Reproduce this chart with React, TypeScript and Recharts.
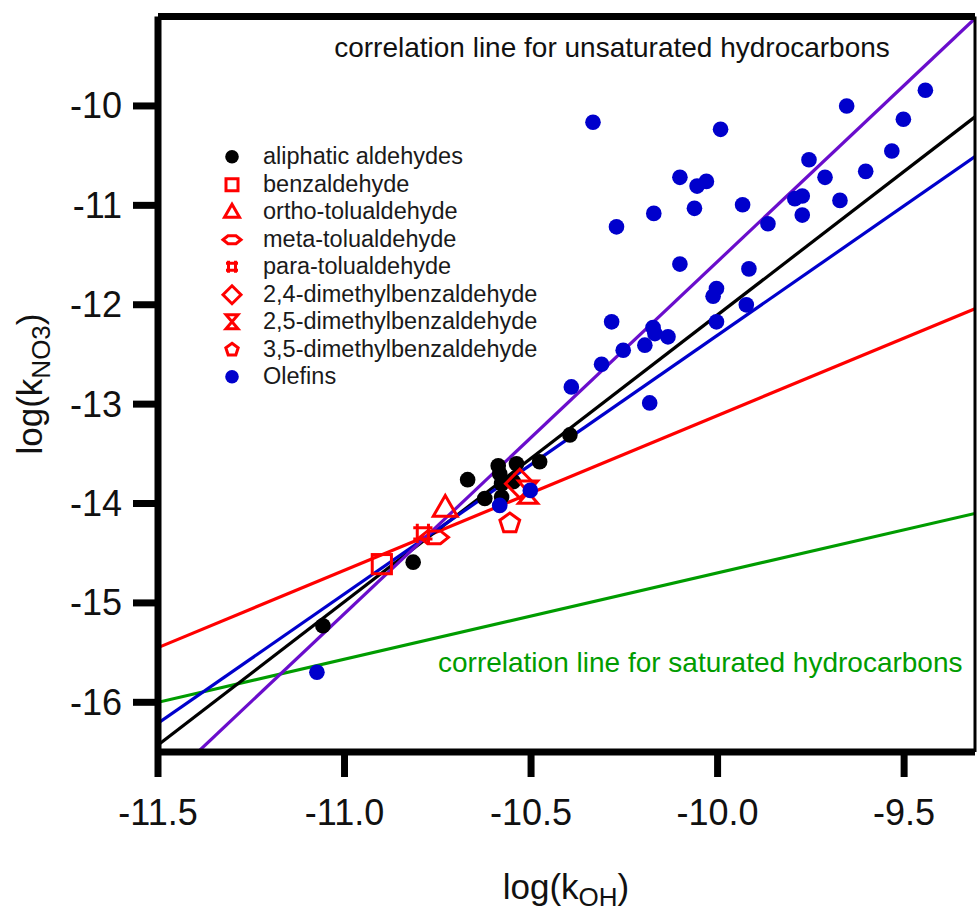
import { ComposedChart, Line, Scatter, XAxis, YAxis, Legend } from 'recharts';

// log(kOH) / log(kNO3) pairs
const ALIPHATIC = [
  { x: -10.67, y: -13.76 },
  { x: -10.588, y: -13.62 },
  { x: -10.584, y: -13.7 },
  { x: -10.579, y: -13.8 },
  { x: -10.539, y: -13.6 },
  { x: -10.548, y: -13.78 },
  { x: -10.477, y: -13.58 },
  { x: -10.624, y: -13.95 },
  { x: -10.579, y: -13.935 },
  { x: -10.816, y: -14.59 },
  { x: -11.058, y: -15.23 },
  { x: -10.396, y: -13.31 },
];
const BENZ = [{ x: -10.9, y: -14.61 }];
const ORTHO = [{ x: -10.73, y: -14.04 }];
const META = [{ x: -10.76, y: -14.34 }];
const PARA = [{ x: -10.79, y: -14.3 }];
const DMB24 = [{ x: -10.53, y: -13.8 }];
const DMB25 = [{ x: -10.508, y: -13.885 }];
const DMB35 = [{ x: -10.557, y: -14.2 }];
const OLEFINS = [
  { x: -10.334, y: -10.164 },
  { x: -9.992, y: -10.235 },
  { x: -9.654, y: -10.0 },
  { x: -9.443, y: -9.842 },
  { x: -9.502, y: -10.134 },
  { x: -9.533, y: -10.453 },
  { x: -9.603, y: -10.658 },
  { x: -9.755, y: -10.541 },
  { x: -9.712, y: -10.718 },
  { x: -10.101, y: -10.718 },
  { x: -10.03, y: -10.759 },
  { x: -10.055, y: -10.806 },
  { x: -10.171, y: -11.081 },
  { x: -10.271, y: -11.216 },
  { x: -10.062, y: -11.03 },
  { x: -9.933, y: -10.994 },
  { x: -9.793, y: -10.933 },
  { x: -9.773, y: -10.906 },
  { x: -9.672, y: -10.95 },
  { x: -9.773, y: -11.098 },
  { x: -9.865, y: -11.185 },
  { x: -10.101, y: -11.591 },
  { x: -9.916, y: -11.639 },
  { x: -10.003, y: -11.837 },
  { x: -10.012, y: -11.914 },
  { x: -9.923, y: -12.001 },
  { x: -10.003, y: -12.172 },
  { x: -10.284, y: -12.172 },
  { x: -10.173, y: -12.229 },
  { x: -10.168, y: -12.29 },
  { x: -10.133, y: -12.323 },
  { x: -10.253, y: -12.458 },
  { x: -10.195, y: -12.407 },
  { x: -10.311, y: -12.599 },
  { x: -10.392, y: -12.827 },
  { x: -10.182, y: -12.988 },
  { x: -10.584, y: -14.019 },
  { x: -10.502, y: -13.868 },
  { x: -11.074, y: -15.698 },
];

// correlation lines (end points)
const SATURATED_LINE = [{ x: -11.5, y: -16.0 }, { x: -9.31, y: -14.1 }];
const AROMATIC_LINE = [{ x: -11.5, y: -15.45 }, { x: -9.31, y: -12.04 }];
const OLEFIN_FIT_LINE = [{ x: -11.5, y: -16.21 }, { x: -9.31, y: -10.51 }];
const ALDEHYDE_LINE = [{ x: -11.5, y: -16.43 }, { x: -9.31, y: -10.11 }];
const UNSATURATED_LINE = [{ x: -11.393, y: -16.5 }, { x: -9.31, y: -9.12 }];

const X_TICKS = [-11.5, -11.0, -10.5, -10.0, -9.5];
const Y_TICKS = [-16, -15, -14, -13, -12, -11, -10];

const FONT = '"Liberation Sans", Arial, sans-serif';
const RED = '#FF0000';
const BLUE = '#0000CC';

const SERIES = [
  { name: 'aliphatic aldehydes', kind: 'dot', color: '#000000', data: ALIPHATIC },
  { name: 'benzaldehyde', kind: 'square', color: RED, data: BENZ },
  { name: 'ortho-tolualdehyde', kind: 'triangle', color: RED, data: ORTHO },
  { name: 'meta-tolualdehyde', kind: 'meta', color: RED, data: META },
  { name: 'para-tolualdehyde', kind: 'para', color: RED, data: PARA },
  { name: '2,4-dimethylbenzaldehyde', kind: 'diamond', color: RED, data: DMB24 },
  { name: '2,5-dimethylbenzaldehyde', kind: 'hourglass', color: RED, data: DMB25 },
  { name: '3,5-dimethylbenzaldehyde', kind: 'pentagon', color: RED, data: DMB35 },
  { name: 'Olefins', kind: 'dot', color: BLUE, data: OLEFINS },
];

function Mark({ kind, cx, cy, s, color }: any) {
  const pts = (list: number[][]) => list.map(([a, b]) => `${cx + a * s},${cy + b * s}`).join(' ');
  const common = { fill: 'none', stroke: color, strokeWidth: 3, strokeLinejoin: 'miter' as const };
  switch (kind) {
    case 'dot':
      return <circle cx={cx} cy={cy} r={6.8 * s} fill={color} />;
    case 'square':
      return <rect x={cx - 6 * s} y={cy - 6 * s} width={12 * s} height={12 * s} {...common} />;
    case 'triangle':
      return <polygon points={pts([[0, -7.5], [7.5, 5.5], [-7.5, 5.5]])} {...common} />;
    case 'meta':
      return <polygon points={pts([[-9, 0], [-4, -4], [4, -4], [9, 0], [4, 4], [-4, 4]])} {...common} />;
    case 'para': {
      const d = `M${cx - 6 * s},${cy - 3.5 * s}H${cx + 6 * s}M${cx - 6 * s},${cy + 3.5 * s}H${cx + 6 * s}M${cx - 3.5 * s},${cy - 6 * s}V${cy + 6 * s}M${cx + 3.5 * s},${cy - 6 * s}V${cy + 6 * s}`;
      return <path d={d} {...common} />;
    }
    case 'diamond':
      return <polygon points={pts([[0, -9], [9, 0], [0, 9], [-9, 0]])} {...common} />;
    case 'hourglass':
      return <polygon points={pts([[-6, -7], [6, -7], [-6, 7], [6, 7]])} {...common} />;
    case 'pentagon': {
      const p = [0, 1, 2, 3, 4].map((i) => {
        const a = -Math.PI / 2 + (i * 2 * Math.PI) / 5;
        return [6.5 * Math.cos(a), 6.5 * Math.sin(a)];
      });
      return <polygon points={pts(p)} {...common} />;
    }
    default:
      return null;
  }
}

function LegendBox() {
  return (
    <div style={{ fontFamily: FONT, fontSize: 23.5, color: '#1a1a1a' }}>
      {SERIES.map((s) => (
        <div key={s.name} style={{ display: 'flex', alignItems: 'center', height: 27.5 }}>
          <svg width={40} height={27.5} style={{ display: 'block' }}>
            <Mark kind={s.kind} cx={20} cy={13.75} s={1} color={s.color} />
          </svg>
          <span style={{ marginLeft: 11, lineHeight: '27.5px', whiteSpace: 'nowrap' }}>{s.name}</span>
        </div>
      ))}
    </div>
  );
}

function XTick({ x, payload }: any) {
  return (
    <text x={x} y={825} textAnchor="middle" fontSize={36} fontFamily={FONT} fill="#111">
      {Number(payload.value).toFixed(1)}
    </text>
  );
}

function YTick({ y, payload }: any) {
  return (
    <text x={122} y={y + 12.5} textAnchor="end" fontSize={36} fontFamily={FONT} fill="#111">
      {payload.value}
    </text>
  );
}

function XTitle() {
  return (
    <text x={566} y={899} textAnchor="middle" fontSize={35} fontFamily={FONT} fill="#111">
      log(k<tspan dy={7} fontSize={26}>OH</tspan>
      <tspan dy={-7}>)</tspan>
    </text>
  );
}

function YTitle() {
  return (
    <text
      x={42}
      y={384}
      transform="rotate(-90 42 384)"
      textAnchor="middle"
      fontSize={35}
      fontFamily={FONT}
      fill="#111"
    >
      log(k<tspan dy={8} fontSize={26}>NO3</tspan>
      <tspan dy={-8}>)</tspan>
    </text>
  );
}

function Notes() {
  return (
    <g fontFamily={FONT} fontSize={28}>
      <text x={612} y={57} textAnchor="middle" fill="#111">
        correlation line for unsaturated hydrocarbons
      </text>
      <text x={438} y={672} fill="#009c00">
        correlation line for saturated hydrocarbons
      </text>
    </g>
  );
}

const lineProps = {
  type: 'linear' as const,
  dataKey: 'y',
  dot: false,
  strokeWidth: 3.2,
  isAnimationActive: false,
  legendType: 'none' as const,
};

export default function App() {
  return (
    <div style={{ position: 'absolute', left: 0, top: 0, width: 978, height: 915, background: '#fff' }}>
      <ComposedChart width={978} height={915} margin={{ top: 15.5, right: 0, bottom: 0, left: 0 }}>
        <XAxis
          xAxisId={0}
          type="number"
          dataKey="x"
          domain={[-11.5, -9.31]}
          allowDataOverflow
          ticks={X_TICKS}
          tick={<XTick />}
          tickSize={25}
          height={163}
          axisLine={{ stroke: '#000', strokeWidth: 7 }}
          tickLine={{ stroke: '#000', strokeWidth: 7 }}
          label={{ content: <XTitle /> }}
        />
        <XAxis
          xAxisId="top"
          orientation="top"
          type="number"
          dataKey="x"
          domain={[-11.5, -9.31]}
          allowDataOverflow
          tick={false}
          tickLine={false}
          height={1}
          axisLine={{ stroke: '#000', strokeWidth: 7 }}
          label={{ content: <Notes /> }}
        />
        <YAxis
          yAxisId={0}
          type="number"
          dataKey="y"
          domain={[-16.5, -9.1]}
          allowDataOverflow
          ticks={Y_TICKS}
          tick={<YTick />}
          tickSize={25}
          width={158}
          axisLine={{ stroke: '#000', strokeWidth: 7 }}
          tickLine={{ stroke: '#000', strokeWidth: 7 }}
          label={{ content: <YTitle /> }}
        />
        <YAxis
          yAxisId="right"
          orientation="right"
          type="number"
          domain={[-16.5, -9.1]}
          tick={false}
          tickLine={false}
          width={3}
          axisLine={{ stroke: '#000', strokeWidth: 3 }}
        />
        <Legend
          layout="vertical"
          align="center"
          verticalAlign="middle"
          content={() => <LegendBox />}
          wrapperStyle={{ left: 212, top: 143, width: 420, height: 250 }}
        />
        <Line {...lineProps} data={SATURATED_LINE} stroke="#009c00" />
        <Line {...lineProps} data={AROMATIC_LINE} stroke={RED} />
        <Line {...lineProps} data={ALDEHYDE_LINE} stroke="#000000" />
        <Line {...lineProps} data={OLEFIN_FIT_LINE} stroke={BLUE} />
        <Line {...lineProps} data={UNSATURATED_LINE} stroke="#6a0dcc" />
        {SERIES.map((s) => (
          <Scatter
            key={s.name}
            name={s.name}
            data={s.data}
            isAnimationActive={false}
            shape={(p: any) => (
              <Mark kind={s.kind} cx={p.cx} cy={p.cy} s={s.kind === 'dot' ? 1.15 : 1.6} color={s.color} />
            )}
          />
        ))}
      </ComposedChart>
    </div>
  );
}
